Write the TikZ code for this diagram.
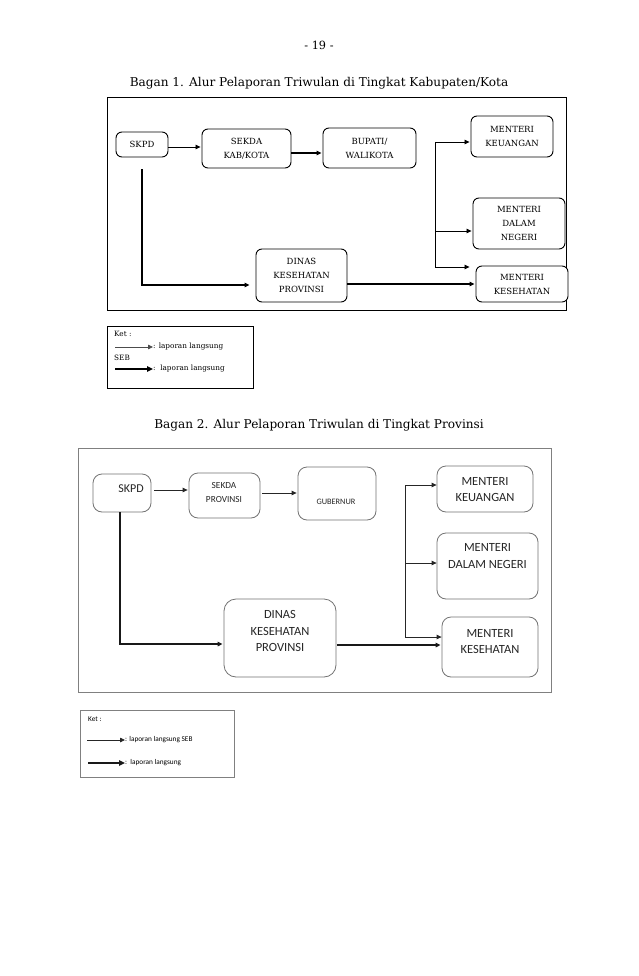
\documentclass[tikz,border=0pt]{standalone}
\usepackage{fontspec}
\setmainfont{DejaVu Serif}
\newfontfamily\calfont{Carlito}
\usetikzlibrary{arrows.meta}
\begin{document}
\begin{tikzpicture}[x=1pt,y=-1pt,
  tip1/.style={-{Triangle[length=5pt,width=4.5pt]}},
  tipb/.style={-{Triangle[length=6pt,width=5.5pt]}},
  box1/.style={draw=black,line width=0.9pt,rounded corners=6pt,inner sep=0pt,align=center,font=\fontsize{8.5}{14}\selectfont},
  frame1/.style={draw=black,line width=0.9pt},
  thin1/.style={draw=black,line width=0.8pt,tip1},
  thick1/.style={draw=black,line width=1.5pt,tip1},
  seg1/.style={draw=black,line width=0.8pt},
  box2/.style={draw=black!55,line width=0.8pt,rounded corners=9pt,inner sep=0pt},
  txt2/.style={inner sep=0pt,align=center,font=\calfont\fontsize{12.5}{16.7}\selectfont,text=black!85},
  frame2/.style={draw=black!50,line width=0.9pt},
  thin2/.style={draw=black!85,line width=0.8pt,tip1},
  thick2/.style={draw=black!90,line width=1.5pt,tip1},
  seg2/.style={draw=black!85,line width=0.8pt},
  lab1/.style={inner sep=0pt,anchor=west,font=\fontsize{7.3}{8}\selectfont},
  lab2/.style={inner sep=0pt,anchor=west,font=\calfont\fontsize{7.3}{9}\selectfont},
  ttl/.style={inner sep=0pt,font=\fontsize{12.1}{14}\selectfont}
]
\useasboundingbox[fill=white] (0,0) rectangle (638,976);

% page number and titles
\node[ttl,font=\fontsize{11.3}{13}\selectfont] (pg) at (319,45) {- 19 -};
\node[ttl] (t1) at (319,83) {Bagan 1. Alur Pelaporan Triwulan di Tingkat Kabupaten/Kota};
\node[ttl] (t2) at (319,425) {Bagan 2. Alur Pelaporan Triwulan di Tingkat Provinsi};

% ---------- Diagram 1 ----------
\draw[frame1] (107,97) rectangle (566,310);
\node[box1,minimum width=52pt,minimum height=25pt] (skpd1) at (142,144.5) {SKPD};
\node[box1,minimum width=89pt,minimum height=39pt] (sekda1) at (246.5,148.5) {SEKDA\\KAB/KOTA};
\node[box1,minimum width=93pt,minimum height=40pt] (bup1) at (369.5,148) {BUPATI/\\WALIKOTA};
\node[box1,minimum width=82pt,minimum height=41pt] (keu1) at (512,136.5) {MENTERI\\KEUANGAN};
\node[box1,minimum width=92pt,minimum height=51pt] (mdn1) at (519,223.5) {MENTERI\\DALAM\\NEGERI};
\node[box1,minimum width=91pt,minimum height=53pt] (din1) at (301.5,275.5) {DINAS\\KESEHATAN\\PROVINSI};
\node[box1,fill=white,minimum width=92pt,minimum height=36pt] (mk1) at (522,284) {MENTERI\\KESEHATAN};

\coordinate (a1) at ([yshift=-2.5pt]skpd1.east);
\draw[thin1] (a1) -- ([xshift=-1pt]a1 -| sekda1.west);
\coordinate (a2) at ([yshift=-4.5pt]sekda1.east);
\draw[thick1,line width=1.1pt] (a2) -- ([xshift=-1pt]a2 -| bup1.west);
\coordinate (b1) at (435,142);
\coordinate (b1m) at (435,231);
\coordinate (b1b) at (435,267);
\draw[seg1] (b1) -- (b1b);
\draw[thin1] (b1) -- ([xshift=-1pt]b1 -| keu1.west);
\draw[thin1] (b1m) -- ([xshift=-1pt]b1m -| mdn1.west);
\draw[thin1] (b1b) -- ([xshift=-6pt]b1b -| mk1.west);
\coordinate (s1) at ([yshift=-12pt]skpd1.south);
\coordinate (d1w) at ([xshift=-6pt,yshift=-9.5pt]din1.west);
\draw[thick1] (s1) |- (d1w);
\coordinate (d1e) at ([yshift=-8.5pt]din1.east);
\draw[thick1] (d1e) -- ([xshift=-1pt]d1e -| mk1.west);

% legend 1
\draw[frame1,line width=0.8pt] (107,326) rectangle (253,388);
\node[lab1] (k1) at (114,334) {Ket :};
\coordinate (l1a) at (115,347);
\coordinate (l1b) at (153,347);
\draw[thin1,draw=black!70] (l1a) -- (l1b);
\node[lab1] (k1a) at (l1b) {: laporan langsung};
\node[lab1] (k1s) at (114,358) {SEB};
\coordinate (l1c) at (115,369);
\coordinate (l1d) at (153,369);
\draw[thick1,line width=2pt,tipb] (l1c) -- (l1d);
\node[lab1] (k1b) at (l1d) {:\ \ laporan langsung};

% ---------- Diagram 2 ----------
\draw[frame2] (78,448) rectangle (551,692);
\node[box2,minimum width=58pt,minimum height=38pt] (skpd2) at (122,493) {};
\node[txt2,font=\calfont\fontsize{12}{16}\selectfont] (skpd2t) at (131,489) {SKPD};
\node[box2,minimum width=71pt,minimum height=45pt] (sek2) at (224.5,495.5) {};
\node[txt2,font=\calfont\fontsize{9.3}{13.3}\selectfont] (sek2t) at (224,492.5) {SEKDA\\PROVINSI};
\node[box2,minimum width=78pt,minimum height=53pt] (gub2) at (337,493.5) {};
\node[txt2,font=\calfont\fontsize{8.3}{10}\selectfont] (gub2t) at (336,502) {GUBERNUR};
\node[box2,minimum width=96pt,minimum height=46pt] (keu2) at (485,489) {};
\node[txt2] (keu2t) at (485,489.5) {MENTERI\\KEUANGAN};
\node[box2,minimum width=101pt,minimum height=66pt] (mdn2) at (487.5,566) {};
\node[txt2] (mdn2t) at (487.5,556) {MENTERI\\DALAM NEGERI};
\node[box2,minimum width=112pt,minimum height=78pt,rounded corners=12pt] (din2) at (280,638) {};
\node[txt2] (din2t) at (280,631) {DINAS\\KESEHATAN\\PROVINSI};
\node[box2,minimum width=96pt,minimum height=60pt] (mk2) at (490,647) {};
\node[txt2] (mk2t) at (490,641.5) {MENTERI\\KESEHATAN};

\coordinate (c1) at ([xshift=3pt,yshift=3pt]skpd2.east);
\draw[thin2] (c1) -- ([xshift=-1pt]c1 -| sek2.west);
\coordinate (c2) at ([xshift=2pt,yshift=2.5pt]sek2.east);
\draw[thin2] (c2) -- ([xshift=-1pt]c2 -| gub2.west);
\coordinate (b2) at (405,485);
\coordinate (b2m) at (405,563);
\coordinate (b2b) at (405,637);
\draw[seg2] (b2) -- (b2b);
\draw[thin2] (b2) -- (b2 -| keu2.west);
\draw[thin2] (b2m) -- (b2m -| mdn2.west);
\draw[thin2] (b2b) -- (b2b -| mk2.west);
\coordinate (s2) at ([xshift=-2pt]skpd2.south);
\coordinate (d2w) at ([xshift=-1pt,yshift=-6pt]din2.west);
\draw[thick2] (s2) |- (d2w);
\coordinate (d2e) at ([xshift=1pt,yshift=-7pt]din2.east);
\draw[thick2] (d2e) -- ([xshift=-1pt]d2e -| mk2.west);

% legend 2
\draw[frame2,line width=0.8pt] (80,710) rectangle (234,777);
\node[lab2] (k2) at (88,719) {Ket :};
\coordinate (l2a) at (87,740);
\coordinate (l2b) at (125,740);
\draw[thin2] (l2a) -- (l2b);
\node[lab2] (k2a) at (l2b) {: laporan langsung SEB};
\coordinate (l2c) at (88,763);
\coordinate (l2d) at (125,763);
\draw[thick2,line width=2pt,tipb] (l2c) -- (l2d);
\node[lab2] (k2b) at (l2d) {:\ \ laporan langsung};
\end{tikzpicture}
\end{document}
